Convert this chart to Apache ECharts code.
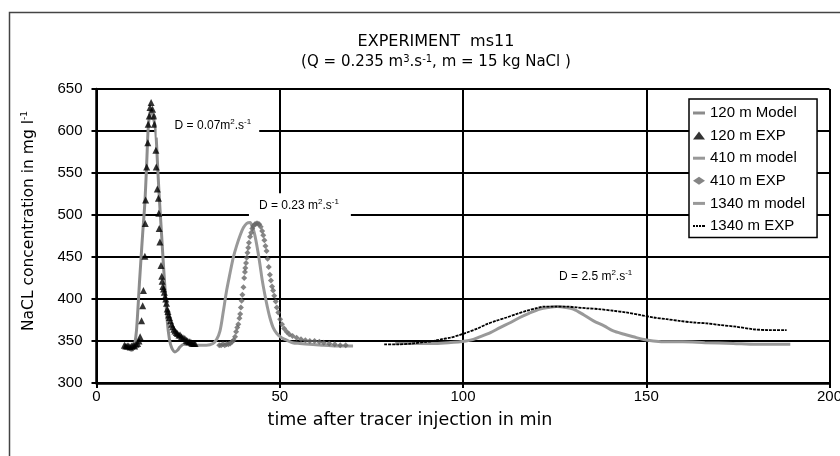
<!DOCTYPE html>
<html>
<head>
<meta charset="utf-8">
<title>EXPERIMENT ms11</title>
<script src="https://cdn.jsdelivr.net/npm/echarts@6/dist/echarts.min.js"></script>
<style>
  html, body { margin: 0; padding: 0; background: #fff; }
  #chart { width: 840px; height: 456px; }
</style>
</head>
<body>
<div id="chart"></div>
<script>
const model120 = [
  [7.5, 345], [8.5, 343], [9.5, 339], [10.1, 341], [10.5, 348], [10.9, 362], [11.3, 388], [11.7, 418],
  [12.1, 445], [12.6, 478], [13.2, 515], [13.7, 562], [14.1, 603], [14.5, 620], [14.9, 625],
  [15.3, 620], [15.8, 610], [16.2, 598], [16.6, 565], [17.1, 523], [17.6, 488], [18.2, 445],
  [18.7, 412], [19.3, 374], [19.9, 352], [20.5, 342], [21.4, 337], [22.1, 339], [22.8, 343],
  [23.8, 346], [25, 346], [26.5, 346]
];
const exp120 = [
  [7.6, 345], [8.0, 344], [8.4, 344], [8.8, 344], [9.2, 343], [9.6, 344], [10.0, 345], [10.4, 344],
  [10.8, 346], [11.2, 347], [11.6, 350], [11.9, 355], [12.3, 374], [12.6, 392], [12.8, 410],
  [13.2, 451], [13.3, 490], [13.4, 518], [13.7, 557], [14.0, 586], [14.1, 608], [14.4, 618],
  [14.6, 628], [14.9, 634], [15.3, 626], [15.7, 618], [15.8, 608], [16.2, 577], [16.3, 557],
  [16.6, 531], [16.9, 520], [17.0, 502], [17.1, 484], [17.3, 468], [17.6, 440], [17.8, 427],
  [17.9, 421], [18.1, 415], [18.3, 412], [18.5, 408], [18.7, 403], [18.9, 400], [19.1, 395],
  [19.3, 388], [19.5, 385], [19.7, 381], [19.9, 378], [20.2, 374], [20.5, 370], [20.8, 367],
  [21.1, 364], [21.4, 362], [21.8, 360], [22.1, 359], [22.5, 357], [22.8, 357], [23.2, 355],
  [23.6, 354], [24.1, 353], [24.5, 351], [24.8, 350], [25.2, 349], [25.5, 349], [25.9, 348],
  [26.2, 347], [26.6, 347], [26.9, 347]
];
const model410 = [
  [26.5, 345], [28, 345], [30, 345], [31.8, 347], [32.8, 352], [33.7, 362], [34.6, 385],
  [35.5, 410], [36.4, 430], [37.3, 449], [38.2, 463], [39.2, 476], [40.1, 485], [41.0, 490],
  [41.9, 491], [42.6, 485], [43.2, 476], [43.9, 460], [44.6, 441], [45.2, 423], [45.9, 406],
  [46.6, 391], [47.3, 378], [48.2, 366], [49.2, 359], [50.5, 354], [51.9, 351], [53.5, 348],
  [55.5, 347], [58, 346], [62, 345], [66, 344], [70, 344]
];
const exp410 = [
  [33.5, 345], [34.0, 345], [34.5, 346], [35.0, 345], [35.5, 346], [36.0, 346], [36.5, 347],
  [37.0, 349], [37.4, 351], [37.8, 355], [38.1, 361], [38.4, 366], [38.7, 370], [39.0, 377],
  [39.2, 382], [39.4, 390], [39.6, 398], [39.8, 405], [40.1, 414], [40.3, 425], [40.5, 432],
  [40.6, 437], [40.8, 443], [41.0, 449], [41.2, 455], [41.4, 461], [41.6, 467], [41.9, 474],
  [42.2, 479], [42.5, 484], [42.8, 487], [43.2, 489], [43.6, 490], [44.0, 490], [44.4, 489],
  [44.8, 486], [45.2, 481], [45.5, 476], [45.8, 470], [46.1, 463], [46.4, 457], [46.7, 448],
  [47.0, 438], [47.3, 429], [47.6, 422], [47.9, 415], [48.2, 410], [48.5, 404], [48.9, 397],
  [49.2, 390], [49.6, 384], [50.1, 376], [50.6, 370], [51.2, 365], [51.9, 361], [52.6, 358],
  [53.5, 356], [54.6, 354], [55.8, 352], [57.0, 351], [58.2, 350], [59.5, 350], [60.8, 349],
  [62.0, 348], [63.5, 347], [65.0, 346], [66.5, 345], [68.0, 345]
];
const model1340 = [
  [81.5, 347], [86, 347], [91.9, 347], [96, 348], [99.2, 349], [102, 351], [104.6, 355],
  [107.5, 360], [110.1, 366], [113, 372], [115.5, 378], [118, 383], [121, 388], [123.5, 390],
  [125.6, 391], [128, 390], [130.1, 388], [133, 381], [135.6, 374], [138.5, 368], [141, 362],
  [144, 358], [146.5, 355], [149, 352], [151.9, 350], [156, 349], [160, 349], [166, 348],
  [173.7, 347], [180, 346], [189.3, 346]
];
const exp1340 = [
  [78.5, 346], [82, 346], [86, 347], [90, 349], [91.9, 350], [94, 352], [96.5, 354], [99, 357],
  [101, 360], [104, 365], [106.5, 370], [109, 374], [111.9, 378], [114.5, 382], [117.4, 386],
  [120, 389], [122, 391], [125, 391], [128.3, 391], [131, 390], [133.7, 389], [137, 388],
  [141, 386], [144.5, 384], [148.3, 381], [152, 378], [155.6, 376], [159, 374], [162.9, 372],
  [166.5, 371], [170.2, 369], [174.5, 367], [179.2, 364], [183.5, 363], [188.3, 363]
];
const seriesNames = ['120 m Model', '120 m EXP', '410 m model', '410 m EXP', '1340 m model', '1340 m EXP'];
const xTicks = [0, 50, 100, 150, 200];
const yTicks = [300, 350, 400, 450, 500, 550, 600, 650];
// dispersion notes, anchored in data units
const notes = [
  { text: 'D = 0.07m{sup|2}.s{sup|-1}', at: [30.4, 606.4], pad: [4, 8, 4, 18] },
  { text: 'D = 0.23 m{sup|2}.s{sup|-1}', at: [55.5, 510.5], pad: [5, 12, 5, 10] },
  { text: 'D = 2.5 m{sup|2}.s{sup|-1}', at: [136.2, 427], pad: [4, 8, 4, 8] }
];

const arial = 'Liberation Sans, Arial, sans-serif';
const tahoma = 'DejaVu Sans, Verdana, sans-serif';
const supStyle = { fontSize: 8, lineHeight: 8, verticalAlign: 'top', fontFamily: arial, color: '#000' };

// legend icons : plain bar for the model lines, dashes for the 1340 m record
const barIcon = 'path://M0,0h12v3h-12z';
const dashIcon = 'path://M0,0h2v2h-2z M3,0h2v2h-2z M6,0h2v2h-2z M9,0h3v2h-3z';

function noteMark(n) {
  return {
    symbol: 'rect', symbolSize: 0, silent: true,
    itemStyle: { color: 'transparent' },
    label: {
      show: true, position: 'inside', formatter: n.text,
      backgroundColor: '#fff', padding: n.pad,
      fontSize: 12, lineHeight: 16, fontFamily: arial, color: '#000',
      rich: { sup: supStyle }
    },
    data: [{ coord: n.at, value: 0 }]
  };
}

let chart = echarts.init(document.getElementById('chart'));
chart.setOption({
  animation: false,
  backgroundColor: '#fff',
  title: {
    text: 'EXPERIMENT  ms11',
    subtext: '(Q = 0.235 m{sup|3}.s{sup|-1}, m = 15 kg NaCl )',
    left: 436, top: 34, textAlign: 'center', itemGap: 4, padding: 0,
    textStyle: { fontSize: 16, lineHeight: 16, fontWeight: 'normal', color: '#000', fontFamily: tahoma },
    subtextStyle: {
      fontSize: 15, lineHeight: 16, color: '#000', fontFamily: tahoma,
      rich: { sup: { fontSize: 10, lineHeight: 10, verticalAlign: 'top', color: '#000', fontFamily: tahoma } }
    }
  },
  graphic: [{
    type: 'rect', silent: true, z: -10,
    shape: { x: 9.5, y: 12.5, width: 900, height: 500 },
    style: { fill: 'none', stroke: '#444', lineWidth: 1.5 }
  }],
  legend: {
    data: [
      { name: seriesNames[0], icon: barIcon },
      { name: seriesNames[1] },
      { name: seriesNames[2], icon: barIcon },
      { name: seriesNames[3] },
      { name: seriesNames[4], icon: barIcon },
      { name: seriesNames[5], icon: dashIcon }
    ],
    orient: 'vertical', left: 689, top: 99,
    padding: [6.5, 12, 4, 4], itemGap: 7.6,
    itemWidth: 12, itemHeight: 8, symbolKeepAspect: true,
    backgroundColor: '#fff', borderColor: '#000', borderWidth: 1.5,
    textStyle: { fontSize: 15, lineHeight: 14, color: '#000', fontFamily: arial }
  },
  grid: { left: 96.5, right: 10.5, top: 89, bottom: 73, outerBoundsMode: 'none' },
  xAxis: {
    type: 'value', min: xTicks[0], max: xTicks[xTicks.length - 1], interval: 50,
    name: 'time after tracer injection in min', nameLocation: 'middle', nameGap: 28,
    nameTextStyle: { fontSize: 17.5, color: '#000', fontFamily: tahoma, padding: [0, 106, 0, 0] },
    axisLine: { lineStyle: { color: '#000', width: 2.5 } },
    axisTick: { show: true, length: 5, lineStyle: { color: '#000', width: 2 } },
    axisLabel: { margin: 6, fontSize: 15, color: '#000', fontFamily: arial },
    splitLine: { show: true, lineStyle: { color: '#000', width: 2 } }
  },
  yAxis: {
    type: 'value', min: yTicks[0], max: yTicks[yTicks.length - 1], interval: 50,
    name: 'NaCL concentration in mg l{sup|-1}', nameLocation: 'middle', nameGap: 60,
    nameTextStyle: {
      fontSize: 15.5, color: '#000', fontFamily: tahoma, padding: [0, 0, 0, 30],
      rich: { sup: { fontSize: 9, lineHeight: 9, verticalAlign: 'top', color: '#000', fontFamily: tahoma } }
    },
    axisLine: { show: true, lineStyle: { color: '#000', width: 2.5 } },
    axisTick: { show: true, length: 5, lineStyle: { color: '#000', width: 2 } },
    axisLabel: { margin: 14, fontSize: 15, color: '#000', fontFamily: arial },
    splitLine: { show: true, lineStyle: { color: '#000', width: 2 } }
  },
  series: [
    {
      name: seriesNames[0], type: 'line', data: model120, symbol: 'none', smooth: 0.3,
      lineStyle: { color: '#8c8c8c', width: 3 }, itemStyle: { color: '#8c8c8c' }, z: 2,
      markPoint: noteMark(notes[0])
    },
    {
      name: seriesNames[1], type: 'scatter', data: exp120, symbol: 'triangle', symbolSize: 7,
      itemStyle: { color: '#000' }, z: 4
    },
    {
      name: seriesNames[2], type: 'line', data: model410, symbol: 'none', smooth: 0.3,
      lineStyle: { color: '#999', width: 3 }, itemStyle: { color: '#999' }, z: 2,
      markPoint: noteMark(notes[1])
    },
    {
      name: seriesNames[3], type: 'scatter', data: exp410, symbol: 'diamond', symbolSize: 6,
      itemStyle: { color: '#666' }, z: 3
    },
    {
      name: seriesNames[4], type: 'line', data: model1340, symbol: 'none', smooth: 0.3,
      lineStyle: { color: '#999', width: 3 }, itemStyle: { color: '#999' }, z: 2,
      markPoint: noteMark(notes[2])
    },
    {
      name: seriesNames[5], type: 'line', data: exp1340, symbol: 'none', smooth: 0.3,
      lineStyle: { color: '#000', width: 1.8, type: [3, 1] }, itemStyle: { color: '#000' }, z: 3
    }
  ]
});
</script>
</body>
</html>
